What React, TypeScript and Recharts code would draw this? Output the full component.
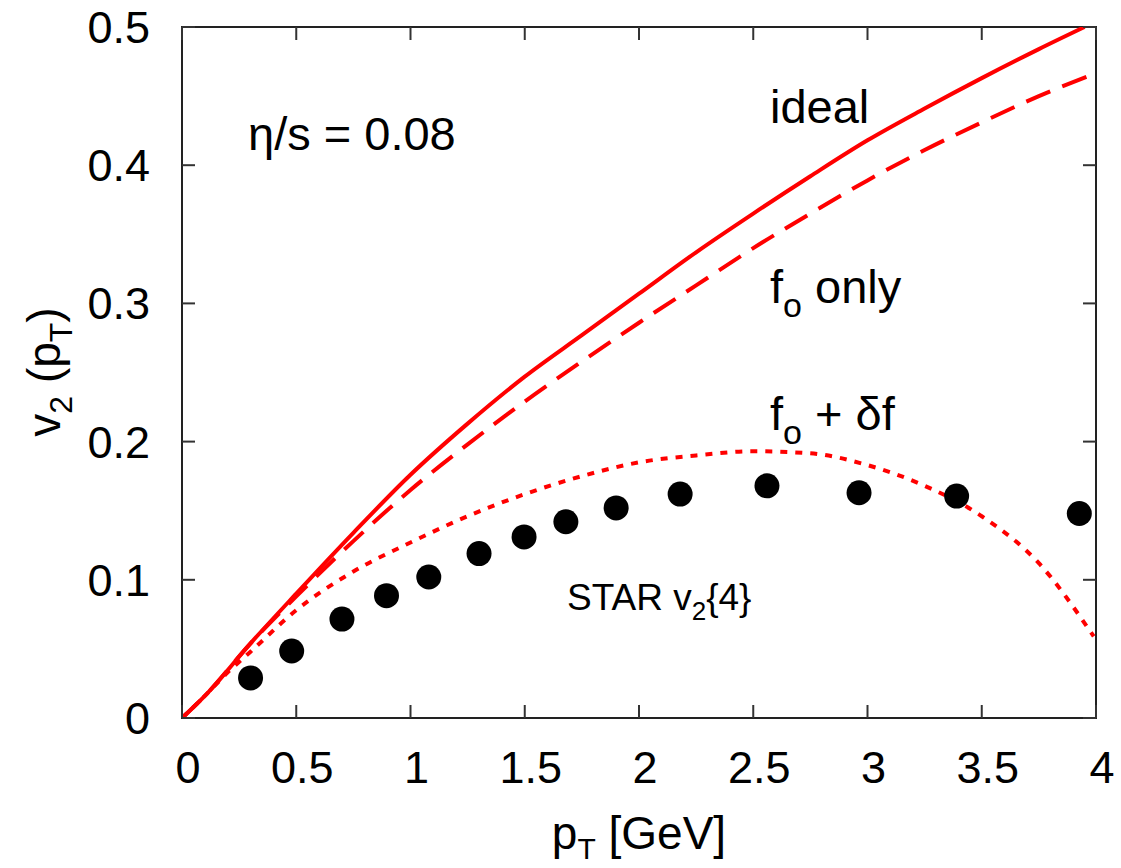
import { ComposedChart, Line, Scatter, XAxis, YAxis, ReferenceArea } from 'recharts'

// model curves, v2(pT)
const idealPt = [0, 0.1, 0.3, 0.5, 0.75, 1, 1.25, 1.5, 1.75, 2, 2.25, 2.5, 2.75, 3, 3.25, 3.5, 3.75, 3.95]
const idealV2 = [0, 0.016, 0.054, 0.09, 0.134, 0.176, 0.213, 0.247, 0.277, 0.307, 0.337, 0.365, 0.392, 0.418, 0.441, 0.463, 0.484, 0.5]

const foPt = [0, 0.1, 0.3, 0.5, 0.75, 1, 1.25, 1.5, 1.75, 2, 2.25, 2.5, 2.75, 3, 3.25, 3.5, 3.75, 4]
const foV2 = [0, 0.016, 0.054, 0.088, 0.128, 0.165, 0.198, 0.229, 0.258, 0.286, 0.313, 0.34, 0.365, 0.389, 0.411, 0.431, 0.45, 0.4665]

const dfPt = [0, 0.1, 0.2, 0.3, 0.5, 0.75, 1, 1.25, 1.5, 1.75, 2, 2.25, 2.5, 2.75, 3, 3.25, 3.5, 3.75, 3.99]
const dfV2 = [0, 0.016, 0.033, 0.048, 0.078, 0.106, 0.127, 0.146, 0.162, 0.175, 0.185, 0.19, 0.193, 0.1915, 0.183, 0.168, 0.146, 0.112, 0.059]

// STAR v2{4} data points
const starPt = [0.3, 0.48, 0.7, 0.895, 1.08, 1.3, 1.497, 1.68, 1.9, 2.18, 2.56, 2.963, 3.39, 3.927]
const starV2 = [0.029, 0.0485, 0.0716, 0.0885, 0.102, 0.119, 0.131, 0.142, 0.152, 0.162, 0.168, 0.163, 0.1606, 0.148]

const xTicks = [0, 0.5, 1, 1.5, 2, 2.5, 3, 3.5, 4]
const yTicks = [0, 0.1, 0.2, 0.3, 0.4, 0.5]

const zip = (xs: number[], ys: number[]) => xs.map((x, i) => ({ x, y: ys[i] }))

const W = 1121
const H = 868
const PLOT = { left: 182, top: 27, right: 1096, bottom: 718 }
const FONT = '"Liberation Sans", Arial, sans-serif'
const RED = '#ff0000'

const XTick = (props: any) => {
  const { x, payload } = props
  return (
    <g>
      <line x1={x} x2={x} y1={PLOT.bottom} y2={PLOT.bottom - 13} stroke="#333" strokeWidth={2} />
      <line x1={x} x2={x} y1={PLOT.top} y2={PLOT.top + 13} stroke="#333" strokeWidth={2} />
      <text x={x + 6} y={PLOT.bottom + 65} textAnchor="middle" fontSize={45} fontFamily={FONT} fill="#000">
        {String(payload.value)}
      </text>
    </g>
  )
}

const YTick = (props: any) => {
  const { y, payload } = props
  return (
    <g>
      <line x1={PLOT.left} x2={PLOT.left + 13} y1={y} y2={y} stroke="#333" strokeWidth={2} />
      <line x1={PLOT.right} x2={PLOT.right - 13} y1={y} y2={y} stroke="#333" strokeWidth={2} />
      <text x={150} y={y + 16} textAnchor="end" fontSize={45} fontFamily={FONT} fill="#000">
        {String(payload.value)}
      </text>
    </g>
  )
}

const Dot = (props: any) => <circle cx={props.cx} cy={props.cy} r={12.5} fill="#000" />

export default function App() {
  return (
    <div style={{ position: 'absolute', left: 0, top: 0, width: W, height: H, background: '#fff' }}>
      <ComposedChart width={W} height={H} margin={{ top: 27, right: 25, left: 0, bottom: 0 }}>
        <XAxis
          type="number"
          dataKey="x"
          domain={[0, 4]}
          ticks={xTicks}
          interval={0}
          height={150}
          axisLine={false}
          tickLine={false}
          tick={XTick}
          allowDataOverflow
        />
        <YAxis
          type="number"
          dataKey="y"
          domain={[0, 0.5]}
          ticks={yTicks}
          interval={0}
          width={182}
          axisLine={false}
          tickLine={false}
          tick={YTick}
          allowDataOverflow
        />
        <ReferenceArea x1={0} x2={4} y1={0} y2={0.5} fill="none" fillOpacity={0} stroke="#222" strokeWidth={2} />
        <Line data={zip(idealPt, idealV2)} dataKey="y" type="monotone" stroke={RED} strokeWidth={4} dot={false} isAnimationActive={false} />
        <Line data={zip(foPt, foV2)} dataKey="y" type="monotone" stroke={RED} strokeWidth={4} strokeDasharray="26 13" dot={false} isAnimationActive={false} />
        <Line data={zip(dfPt, dfV2)} dataKey="y" type="monotone" stroke={RED} strokeWidth={4} strokeDasharray="7 8" dot={false} isAnimationActive={false} />
        <Scatter data={zip(starPt, starV2)} dataKey="y" shape={Dot} isAnimationActive={false} />
      </ComposedChart>

      <svg width={W} height={H} style={{ position: 'absolute', left: 0, top: 0, pointerEvents: 'none' }} fontFamily={FONT} fill="#000">
        <text x={248} y={150} fontSize={47}>η/s = 0.08</text>
        <text x={770} y={123} fontSize={47}>ideal</text>
        <text x={770} y={303} fontSize={47}>
          f<tspan fontSize={34} dy={14}>o</tspan>
          <tspan dy={-14}> only</tspan>
        </text>
        <text x={770} y={430} fontSize={47}>
          f<tspan fontSize={34} dy={14}>o</tspan>
          <tspan dy={-14}> + δf</tspan>
        </text>
        <text x={567} y={610} fontSize={37}>
          STAR v<tspan fontSize={26} dy={10}>2</tspan>
          <tspan dy={-10}>{'{4}'}</tspan>
        </text>
        <text x={639} y={849} fontSize={46} textAnchor="middle">
          p<tspan fontSize={30} dy={10}>T</tspan>
          <tspan dy={-10}> [GeV]</tspan>
        </text>
        <text transform="translate(60,372) rotate(-90)" fontSize={46} textAnchor="middle">
          v<tspan fontSize={32} dy={12}>2</tspan>
          <tspan dy={-12}> (p</tspan>
          <tspan fontSize={32} dy={12}>T</tspan>
          <tspan dy={-12}>)</tspan>
        </text>
      </svg>
    </div>
  )
}
